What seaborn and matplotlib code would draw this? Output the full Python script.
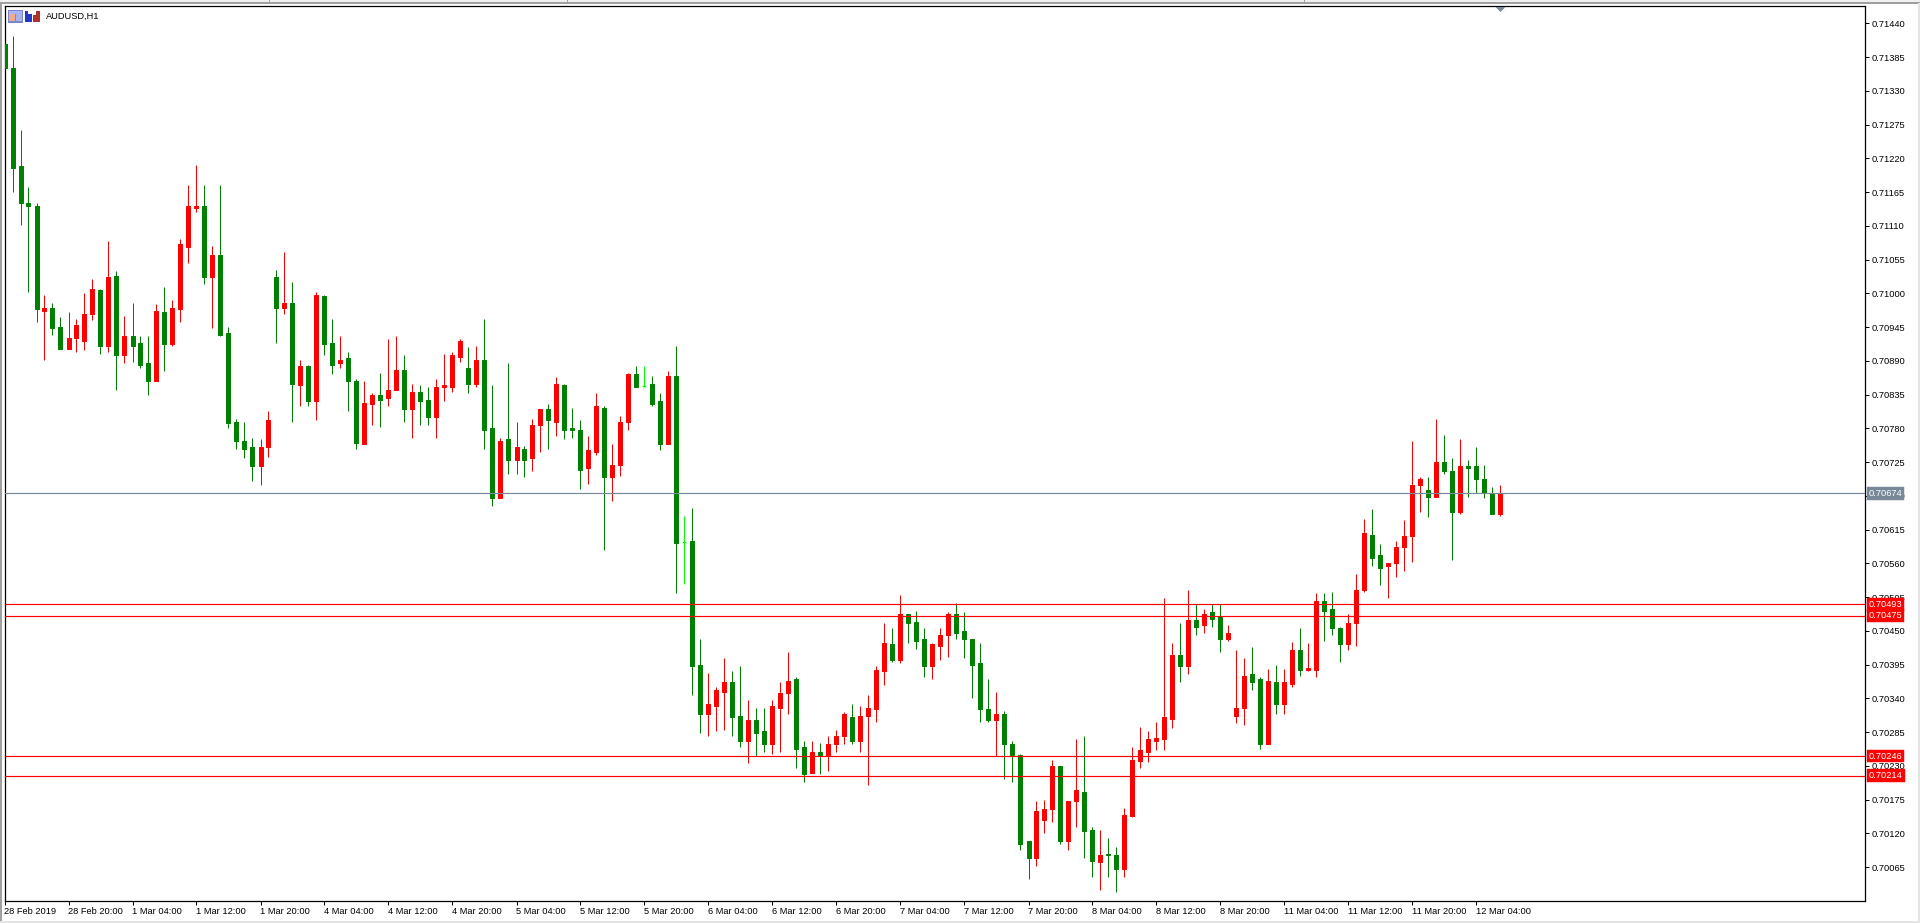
import matplotlib
matplotlib.use("Agg")
import matplotlib.pyplot as plt
from matplotlib.patches import Rectangle
import numpy as np
import pandas as pd
import seaborn as sns

# AUDUSD hourly bars, prices in points (1 point = 0.00001)
opens = [
    71406, 71368, 71207, 71147, 71143, 70972, 70977, 70946, 70910, 70928,
    70923, 70967, 71006, 70915, 71029, 70899, 70930, 70920, 70886, 70858,
    70970, 70918, 70975, 71076, 71140, 71143, 71026, 71062, 70935, 70791,
    70760, 70749, 70718, 70749, 71026, 70977, 70985, 70850, 70881, 70825,
    70995, 70920, 70886, 70894, 70858, 70755, 70819, 70835, 70829, 70842,
    70876, 70812, 70840, 70827, 70798, 70847, 70848, 70897, 70878, 70852,
    70891, 70780, 70667, 70762, 70729, 70747, 70731, 70785, 70811, 70791,
    70850, 70780, 70778, 70715, 70742, 70814, 70700, 70720, 70790, 70868,
    70849, 70852, 70824, 70755, 70865, 70595, 70596, 70395, 70314, 70328,
    70351, 70367, 70312, 70271, 70304, 70286, 70266, 70325, 70348, 70371,
    70260, 70219, 70253, 70246, 70266, 70279, 70310, 70271, 70312, 70323,
    70385, 70429, 70402, 70477, 70464, 70436, 70393, 70426, 70444, 70477,
    70450, 70437, 70397, 70323, 70305, 70315, 70266, 70248, 70107, 70079,
    70142, 70159, 70230, 70107, 70172, 70188, 70126, 70074, 70087, 70085,
    70062, 70149, 70238, 70253, 70271, 70274, 70307, 70411, 70393, 70468,
    70459, 70480, 70472, 70437, 70312, 70325, 70379, 70371, 70266, 70367,
    70331, 70364, 70419, 70387, 70387, 70498, 70485, 70455, 70428, 70462,
    70517, 70607, 70573, 70555, 70560, 70586, 70604, 70688, 70679, 70669,
    70726, 70711, 70643, 70719, 70718, 70698, 70675, 70641,
]
closes = [
    71367, 71204, 71147, 71142, 70974, 70977, 70943, 70910, 70928, 70948,
    70967, 71008, 70915, 71027, 70899, 70930, 70915, 70884, 70858, 70972,
    70918, 70977, 71080, 71142, 71143, 71026, 71062, 70933, 70788, 70759,
    70746, 70718, 70749, 70793, 70977, 70985, 70852, 70881, 70825, 70997,
    70918, 70884, 70892, 70858, 70757, 70822, 70835, 70827, 70842, 70876,
    70812, 70840, 70825, 70798, 70848, 70850, 70900, 70922, 70852, 70892,
    70778, 70666, 70760, 70728, 70749, 70729, 70785, 70811, 70793, 70852,
    70778, 70778, 70713, 70744, 70816, 70700, 70720, 70791, 70868, 70848,
    70849, 70819, 70755, 70865, 70594, 70595, 70393, 70315, 70330, 70354,
    70367, 70310, 70271, 70304, 70284, 70266, 70327, 70348, 70369, 70258,
    70217, 70253, 70247, 70266, 70279, 70315, 70270, 70312, 70325, 70387,
    70431, 70402, 70477, 70462, 70434, 70393, 70428, 70444, 70477, 70447,
    70436, 70395, 70322, 70305, 70315, 70266, 70247, 70103, 70080, 70157,
    70160, 70229, 70107, 70173, 70190, 70124, 70075, 70085, 70084, 70062,
    70150, 70240, 70256, 70273, 70276, 70310, 70410, 70393, 70468, 70457,
    70478, 70470, 70437, 70446, 70325, 70377, 70367, 70266, 70369, 70330,
    70366, 70419, 70387, 70390, 70498, 70483, 70454, 70428, 70462, 70517,
    70609, 70569, 70553, 70561, 70587, 70605, 70688, 70698, 70669, 70726,
    70711, 70643, 70718, 70715, 70697, 70674, 70641, 70675,
]
highs = [
    71406, 71419, 71266, 71174, 71147, 70998, 70985, 70962, 70970, 70959,
    71001, 71024, 71008, 71085, 71036, 70964, 70984, 70930, 70931, 70982,
    71011, 70990, 71089, 71176, 71210, 71177, 71078, 71177, 70946, 70796,
    70791, 70764, 70762, 70809, 71039, 71067, 71018, 70891, 70884, 71002,
    70998, 70958, 70930, 70904, 70860, 70858, 70837, 70870, 70925, 70930,
    70899, 70852, 70850, 70848, 70860, 70902, 70904, 70925, 70912, 70915,
    70958, 70850, 70765, 70887, 70791, 70752, 70796, 70812, 70819, 70863,
    70853, 70814, 70794, 70767, 70837, 70816, 70755, 70801, 70871, 70881,
    70881, 70866, 70837, 70874, 70914, 70638, 70651, 70436, 70382, 70358,
    70406, 70384, 70392, 70338, 70325, 70325, 70338, 70366, 70415, 70374,
    70271, 70271, 70268, 70278, 70289, 70317, 70331, 70327, 70346, 70393,
    70462, 70455, 70509, 70477, 70483, 70454, 70431, 70455, 70481, 70496,
    70481, 70437, 70431, 70371, 70351, 70320, 70271, 70250, 70108, 70172,
    70175, 70240, 70230, 70173, 70274, 70279, 70131, 70126, 70113, 70097,
    70162, 70261, 70294, 70286, 70302, 70503, 70431, 70463, 70517, 70493,
    70486, 70493, 70493, 70460, 70418, 70405, 70423, 70374, 70388, 70395,
    70388, 70432, 70455, 70431, 70512, 70512, 70514, 70457, 70477, 70543,
    70633, 70649, 70591, 70561, 70597, 70631, 70760, 70700, 70700, 70796,
    70770, 70732, 70762, 70729, 70750, 70721, 70685, 70688,
]
lows = [
    71367, 71165, 71111, 71003, 70954, 70892, 70933, 70910, 70910, 70904,
    70907, 70957, 70902, 70904, 70843, 70887, 70889, 70879, 70835, 70858,
    70874, 70915, 70953, 71050, 71132, 71016, 70944, 70931, 70781, 70746,
    70731, 70695, 70687, 70734, 70920, 70966, 70790, 70816, 70817, 70794,
    70899, 70868, 70878, 70809, 70746, 70754, 70785, 70783, 70817, 70842,
    70790, 70764, 70785, 70785, 70765, 70824, 70839, 70889, 70837, 70848,
    70747, 70653, 70666, 70705, 70706, 70700, 70711, 70742, 70746, 70767,
    70762, 70764, 70682, 70690, 70736, 70581, 70662, 70702, 70777, 70847,
    70847, 70816, 70744, 70755, 70511, 70527, 70345, 70284, 70279, 70287,
    70289, 70278, 70260, 70235, 70246, 70252, 70250, 70253, 70314, 70226,
    70204, 70219, 70217, 70222, 70253, 70265, 70265, 70253, 70198, 70302,
    70362, 70400, 70398, 70431, 70421, 70375, 70372, 70403, 70408, 70437,
    70406, 70340, 70302, 70302, 70246, 70209, 70203, 70093, 70045, 70067,
    70120, 70139, 70102, 70093, 70131, 70080, 70048, 70028, 70049, 70025,
    70049, 70147, 70227, 70237, 70256, 70256, 70291, 70366, 70379, 70444,
    70447, 70457, 70416, 70434, 70300, 70296, 70354, 70258, 70265, 70315,
    70315, 70359, 70377, 70385, 70375, 70434, 70444, 70400, 70419, 70426,
    70514, 70556, 70524, 70504, 70538, 70548, 70563, 70644, 70635, 70669,
    70706, 70565, 70640, 70669, 70674, 70666, 70641, 70638,
]

# Horizontal levels drawn across the chart
bid_level = 70674
red_levels = [70493, 70475, 70246, 70214]

instrument_label = "AUDUSD,H1"
time_labels = [
    "28 Feb 2019", "28 Feb 20:00", "1 Mar 04:00", "1 Mar 12:00", "1 Mar 20:00",
    "4 Mar 04:00", "4 Mar 12:00", "4 Mar 20:00", "5 Mar 04:00", "5 Mar 12:00",
    "5 Mar 20:00", "6 Mar 04:00", "6 Mar 12:00", "6 Mar 20:00", "7 Mar 04:00",
    "7 Mar 12:00", "7 Mar 20:00", "8 Mar 04:00", "8 Mar 12:00", "8 Mar 20:00",
    "11 Mar 04:00", "11 Mar 12:00", "11 Mar 20:00", "12 Mar 04:00",
]
price_ticks = list(range(71440, 70060, -55))
bars_per_time_label = 8

UP, DOWN, FLAT = "#ff0000", "#008000", "#00ff00"
LEVEL_GREY = "#778899"
FONT = "Liberation Sans"
SIZE = 6.7

sns.set_theme(style="white", rc={"font.family": FONT})
W, H = 1920, 923
fig = plt.figure(figsize=(W / 100, H / 100), dpi=100, facecolor="white")
ax = fig.add_axes([4.5 / W, 1 - 900.5 / H, (1865 - 4.5) / W, (900.5 - 6) / H])
ax.set_zorder(2)

frame = pd.DataFrame({"open": opens, "close": closes, "high": highs, "low": lows},
                     dtype=float) / 1e5
frame["bar"] = np.arange(len(frame))
frame["top"] = frame[["open", "close"]].max(axis=1)
frame["bottom"] = frame[["open", "close"]].min(axis=1)
frame["body"] = frame["top"] - frame["bottom"]
frame["direction"] = np.where(frame["close"] > frame["open"], "up",
                              np.where(frame["close"] < frame["open"], "down", "flat"))
palette = {"up": UP, "down": DOWN, "flat": FLAT}

# Wicks first, bodies on top of them
ax.vlines(frame["bar"], frame["low"], frame["high"],
          colors=frame["direction"].map(palette), linewidth=0.72, zorder=2)
for direction, group in frame.groupby("direction"):
    # With a native scale seaborn multiplies width by the smallest gap between bars
    gap = np.diff(group["bar"]).min()
    sns.barplot(data=group, x="bar", y="body", bottom=group["bottom"].to_numpy(),
                color=palette[direction], edgecolor=palette[direction], saturation=1,
                native_scale=True, width=0.5 / gap, linewidth=0.72, ax=ax, zorder=3)

ax.set_xlim(0, (1865 - 4.5) / 8)
ax.set_ylim(0.700105, 0.714685)
ax.set_xlabel("")
ax.set_ylabel("")

# Price scale on the right
ax.yaxis.tick_right()
ax.set_yticks([t / 1e5 for t in price_ticks])
ax.set_yticklabels([f"{t / 1e5:.5f}" for t in price_ticks], fontsize=SIZE, family=FONT, color="black")
ax.tick_params(axis="y", which="major", right=True, length=3.2, width=0.72, pad=1.5, color="black")

# Time scale, labels start at their tick
tick_bars = [i * bars_per_time_label for i in range(len(time_labels))]
ax.set_xticks(tick_bars)
ax.set_xticklabels(time_labels, fontsize=SIZE, family=FONT, ha="left", color="black")
ax.tick_params(axis="x", which="major", bottom=True, length=3.2, width=0.72, pad=1.5, color="black")

for side in ax.spines.values():
    side.set_visible(True)
    side.set_color("black")
    side.set_linewidth(0.9)


def price_tag(level, color):
    ax.axhline(level / 1e5, color=color, linewidth=0.85, zorder=4)
    ax.annotate(f"{level / 1e5:.5f}", xy=(1, level / 1e5), xycoords=ax.get_yaxis_transform(),
                xytext=(2.8, 0), textcoords="offset points", ha="left", va="center",
                fontsize=SIZE, family=FONT, color="white", zorder=6, annotation_clip=False,
                bbox=dict(boxstyle="square,pad=0.2", facecolor=color, edgecolor=color, linewidth=0.3))


price_tag(bid_level, LEVEL_GREY)
for lvl in red_levels:
    price_tag(lvl, UP)

# Small downward marker along the top edge, above the latest bar
ax.plot([frame["bar"].iloc[-1]], [0.9972], marker=[(-1, 0.5), (1, 0.5), (0, -0.5)],
        markersize=7.2, color=LEVEL_GREY, markeredgewidth=0,
        transform=ax.get_xaxis_transform(), clip_on=False, zorder=6)

ax.text(41.5 / 1860.5, 1 - 10.5 / 894.5, instrument_label, transform=ax.transAxes,
        fontsize=SIZE, family=FONT, color="black", va="center", ha="left", zorder=6)


def box(x, y, w, h, color, z=5):
    fig.add_artist(Rectangle((x / W, 1 - (y + h) / H), w / W, h / H, transform=fig.transFigure,
                             facecolor=color, edgecolor="none", zorder=z))


# Terminal window edges
box(0, 2, W, 2, "#a0a0a0")
box(0, 0, W, 2, "#f0f0f0")
box(0, 2, 2, H - 2, "#a0a0a0")
box(W - 2, 3, 2, H - 3, "#e4e4e4")
box(0, H - 2, W, 2, "#e4e4e4")
for tab_x in (269, 567, 1304):
    box(tab_x, 0, 1, 2, "#a0a0a0")

# Toolbar icons beside the instrument name
box(8, 10, 15, 13, "#7a86c8")
box(9, 11, 13, 3, "#a8b4f8")
box(9, 14, 6, 7, "#f4a890")
box(16, 14, 6, 7, "#a8b4e8")
box(25, 11, 7, 11, "#2438c8")
box(28, 11, 4, 3, "#ffffff")
box(33, 11, 7, 11, "#b03030")
box(33, 11, 3, 4, "#ffffff")

fig.savefig("out.png", dpi=100, facecolor="white")
